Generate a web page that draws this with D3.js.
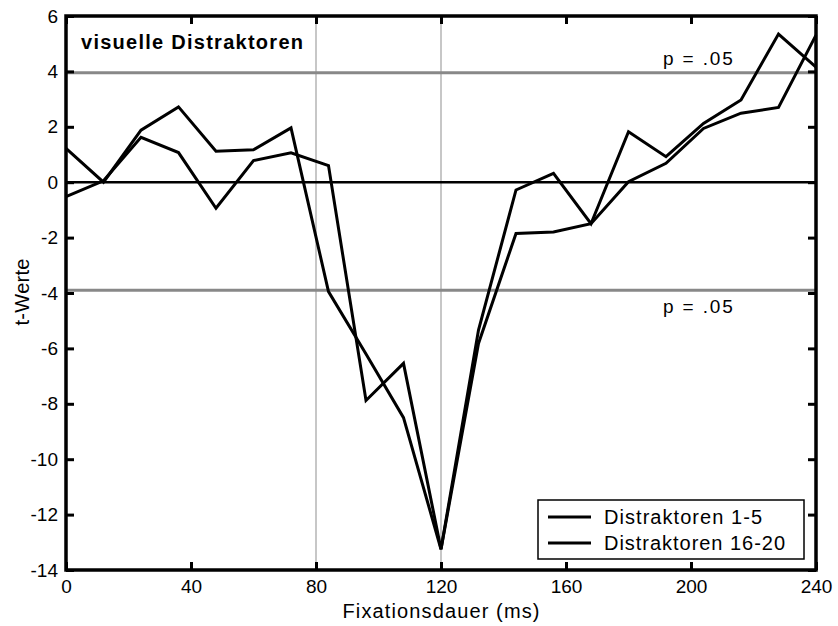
<!DOCTYPE html>
<html><head><meta charset="utf-8">
<script src="https://cdn.jsdelivr.net/npm/d3@7"></script>
<style>
body{margin:0;background:#fff;}
text{font-family:"Liberation Sans",Arial,sans-serif;fill:#000;}
</style></head><body>
<svg id="chart" width="838" height="626"></svg>
<script>
// ---- data ----
const times = [0,12,24,36,48,60,72,84,96,108,120,132,144,156,168,180,192,204,216,228,240];
const series1 = [1.22,0.0,1.88,2.72,1.12,1.17,1.96,-3.95,-6.2,-8.5,-13.25,-5.34,-0.28,0.32,-1.5,1.82,0.92,2.12,2.97,5.35,4.15];
const series2 = [-0.52,0.05,1.62,1.07,-0.94,0.78,1.06,0.6,-7.88,-6.54,-13.25,-5.82,-1.85,-1.8,-1.5,0.02,0.68,1.94,2.49,2.7,5.31];
const seriesNames = ["Distraktoren 1-5","Distraktoren 16-20"];
const xTicks = [0,40,80,120,160,200,240];
const yTicks = [-14,-12,-10,-8,-6,-4,-2,0,2,4,6];
const vLines = [80,120];
const pLevels = [3.95,-3.9];
const pLabel = "p = .05";
const title = "visuelle Distraktoren";
const xLabel = "Fixationsdauer (ms)";
const yLabel = "t-Werte";

const svg = d3.select("#chart");
const L=66,R=816,T=16,B=570;
const x = d3.scaleLinear().domain([0,240]).range([L,R]);
const y = d3.scaleLinear().domain([-14,6]).range([B,T]);
const fmt = d => String(d);

// vertical grid lines
svg.selectAll(".vl").data(vLines).enter().append("line")
  .attr("x1",d=>x(d)).attr("x2",d=>x(d)).attr("y1",T).attr("y2",B)
  .attr("stroke","#b4b4b4").attr("stroke-width",1.5);

// p-lines
svg.selectAll(".pl").data(pLevels).enter().append("line")
  .attr("x1",L).attr("x2",R).attr("y1",d=>y(d)).attr("y2",d=>y(d))
  .attr("stroke","#888").attr("stroke-width",3);
svg.append("text").attr("x",x(191)).attr("y",y(pLevels[0])-8).attr("font-size",19)
  .attr("textLength",70).attr("lengthAdjust","spacing").text(pLabel);
svg.append("text").attr("x",x(191)).attr("y",y(pLevels[1])+23).attr("font-size",19)
  .attr("textLength",70).attr("lengthAdjust","spacing").text(pLabel);

// zero line
svg.append("line").attr("x1",L).attr("x2",R).attr("y1",y(0)).attr("y2",y(0))
  .attr("stroke","#000").attr("stroke-width",2.5);

// data lines
const line = d3.line().x((d,i)=>x(times[i])).y(d=>y(d));
[series1,series2].forEach(s=>{
  svg.append("path").attr("d",line(s)).attr("fill","none")
    .attr("stroke","#000").attr("stroke-width",3).attr("stroke-linejoin","miter");
});

// title
svg.append("text").attr("x",81).attr("y",49).attr("font-size",20).attr("font-weight","bold")
  .attr("textLength",222).attr("lengthAdjust","spacing").text(title);

// axes (ticks inward on all sides)
const axB = d3.axisBottom(x).tickValues(xTicks).tickSizeInner(-8).tickSizeOuter(0).tickPadding(10).tickFormat(fmt);
const axT = d3.axisTop(x).tickValues(xTicks).tickSizeInner(-8).tickSizeOuter(0).tickFormat("");
const axL = d3.axisLeft(y).tickValues(yTicks).tickSizeInner(-8).tickSizeOuter(0).tickPadding(8).tickFormat(fmt);
const axR = d3.axisRight(y).tickValues(yTicks).tickSizeInner(-8).tickSizeOuter(0).tickFormat("");
function style(g){
  g.select(".domain").remove();
  g.selectAll(".tick line").attr("stroke","#000").attr("stroke-width",3);
  g.selectAll(".tick text").attr("font-size",19).attr("font-family","Liberation Sans, Arial, sans-serif")
    .attr("fill","#000");
}
svg.append("g").attr("transform",`translate(0,${B})`).call(axB).call(style);
svg.append("g").attr("transform",`translate(0,${T})`).call(axT).call(style);
svg.append("g").attr("transform",`translate(${L},0)`).call(axL).call(style);
svg.append("g").attr("transform",`translate(${R},0)`).call(axR).call(style);

// frame
svg.append("rect").attr("x",L).attr("y",T).attr("width",R-L).attr("height",B-T)
  .attr("fill","none").attr("stroke","#000").attr("stroke-width",3.5);

// axis labels
svg.append("text").attr("x",(L+R)/2).attr("y",618).attr("text-anchor","middle").attr("font-size",20)
  .attr("textLength",197).attr("lengthAdjust","spacing").text(xLabel);
svg.append("text").attr("transform",`translate(29,${(T+B)/2 - 1}) rotate(-90)`).attr("text-anchor","middle")
  .attr("font-size",20).attr("textLength",67).attr("lengthAdjust","spacing").text(yLabel);

// legend
const lg = svg.append("g");
lg.append("rect").attr("x",538).attr("y",500).attr("width",266).attr("height",59)
  .attr("fill","#fff").attr("stroke","#000").attr("stroke-width",1.5);
seriesNames.forEach((n,i)=>{
  const yy = 517 + i*26;
  lg.append("line").attr("x1",548).attr("x2",591).attr("y1",yy).attr("y2",yy).attr("stroke","#000").attr("stroke-width",3);
  lg.append("text").attr("x",604).attr("y",yy+7).attr("font-size",20)
    .attr("textLength",i===0?158:181).attr("lengthAdjust","spacing").text(n);
});
</script>
</body></html>
